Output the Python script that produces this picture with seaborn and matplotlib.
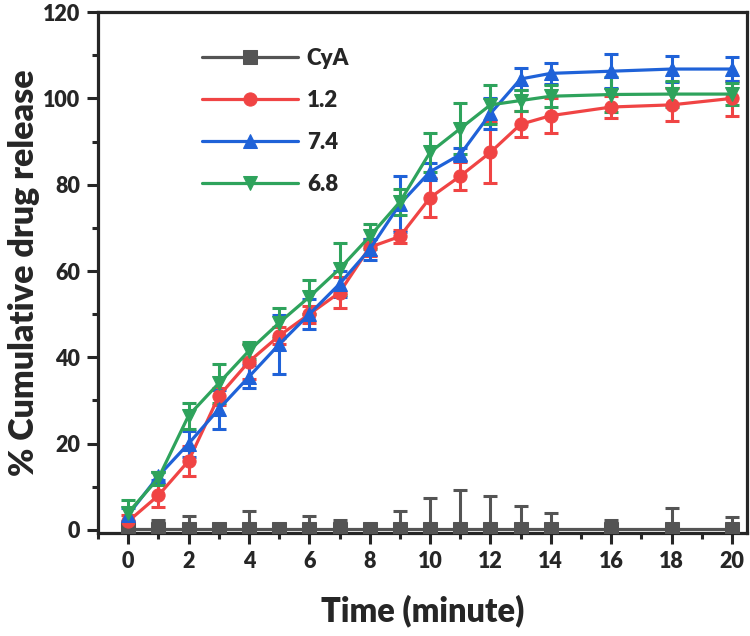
import matplotlib
matplotlib.use("Agg")
import matplotlib.pyplot as plt
import seaborn as sns
import pandas as pd
from matplotlib.ticker import MultipleLocator

time = [0, 1, 2, 3, 4, 5, 6, 7, 8, 9, 10, 11, 12, 13, 14, 16, 18, 20]
cya = [0.3, 0.3, 0.3, 0.3, 0.3, 0.3, 0.3, 0.3, 0.3, 0.3, 0.3, 0.3, 0.3, 0.3, 0.3, 0.3, 0.3, 0.3]
cya_err = [1.0, 2.0, 3.0, 1.0, 4.0, 0.5, 3.0, 2.0, 0.8, 4.0, 7.0, 9.0, 7.5, 5.3, 3.6, 1.9, 4.7, 2.8]
ph12 = [2, 8, 16, 31, 39, 45, 50, 55, 65.5, 68, 77, 82, 87.5, 94, 96, 98, 98.5, 100]
ph12_err = [1.5, 2.7, 3.5, 2, 4, 2, 2, 3.5, 2, 1.5, 4.5, 3.3, 7, 3, 4, 2.5, 3.8, 4]
ph74 = [3.5, 12.5, 20, 28, 35.5, 43, 50, 57, 65, 75.5, 83, 87, 96.5, 104.5, 105.8, 106.3, 106.8, 106.8]
ph74_err = [1.5, 1, 3, 4.5, 2.7, 6.8, 3.5, 3, 2.5, 6.5, 2, 1.5, 3.5, 2.5, 2.5, 4, 3, 2.7]
ph68 = [4, 12, 26.5, 34, 41.5, 48, 54, 60.5, 68, 76, 87.5, 93, 98.5, 99.5, 100.5, 100.9, 101, 101]
ph68_err = [3, 1.5, 3, 4.5, 2, 3.5, 4, 6, 3, 3, 4.5, 6, 4.5, 2.5, 2.5, 4, 3, 2.5]

labels = ["CyA", "1.2", "7.4", "6.8"]
series = [cya, ph12, ph74, ph68]
errors = [cya_err, ph12_err, ph74_err, ph68_err]
colors = ["#545454", "#f04444", "#1f62d8", "#2ea35c"]
markers = ["s", "o", "^", "v"]

sns.set_style("ticks")
plt.rcParams["font.family"] = ["Lato", "DejaVu Sans"]
W = "heavy"
plt.rcParams["font.weight"] = W

fig = plt.figure(figsize=(7.5, 6.36), dpi=100)
ax = fig.add_axes([0.1307, 0.162, 0.8653, 0.819])

for lab, ys, es, c, m in zip(labels, series, errors, colors, markers):
    df = pd.DataFrame({"t": time, "v": ys})
    ax.errorbar(time, ys, yerr=es, fmt="none", ecolor=c, elinewidth=2.2,
                capsize=5, capthick=2.2, zorder=2)
    sns.lineplot(data=df, x="t", y="v", color=c, marker=m, markersize=9.5,
                 markeredgecolor=c, linewidth=2.3, label=lab, ax=ax, zorder=3)

ax.set_xlim(-1, 20.5)
ax.set_ylim(-0.7, 120)
ax.xaxis.set_major_locator(MultipleLocator(2))
ax.xaxis.set_minor_locator(MultipleLocator(1))
ax.yaxis.set_major_locator(MultipleLocator(20))
ax.yaxis.set_minor_locator(MultipleLocator(10))
ax.tick_params(which="major", direction="out", length=8, width=2.2, labelsize=15.5, pad=5)
ax.tick_params(which="minor", direction="out", length=4, width=2.2)
for s in ax.spines.values():
    s.set_linewidth(2.3)
    s.set_visible(True)
for lbl in ax.get_xticklabels() + ax.get_yticklabels():
    lbl.set_fontweight(W)

ax.set_xlabel("Time (minute)", fontsize=23.5, fontweight=W, labelpad=16)
ax.set_ylabel("% Cumulative drug release", fontsize=24.5, fontweight=W, labelpad=2)

leg = ax.legend(loc="upper left", bbox_to_anchor=(0.13, 0.97), frameon=False,
                handlelength=4.3, labelspacing=0.95, handletextpad=0.4,
                prop={"weight": W, "size": 16})

fig.savefig("out.png", dpi=100)
